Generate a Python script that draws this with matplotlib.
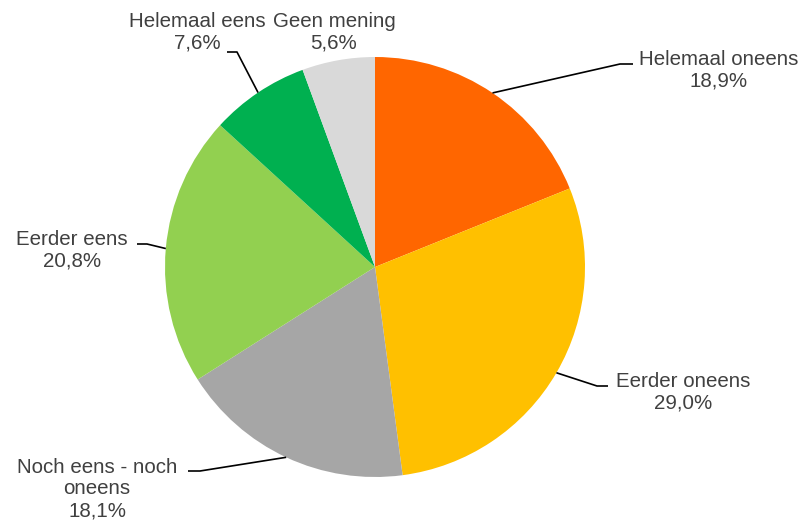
import matplotlib
matplotlib.use("Agg")
import matplotlib.pyplot as plt
import numpy as np

# Answer categories and shares (percent)
labels = ["Helemaal oneens", "Eerder oneens", "Noch eens - noch\noneens",
          "Eerder eens", "Helemaal eens", "Geen mening"]
values = [18.9, 29.0, 18.1, 20.8, 7.6, 5.6]
colors = ["#FF6600", "#FFC000", "#A6A6A6", "#92D050", "#00B050", "#D9D9D9"]

W, H = 805, 527
CX, CY, R = 375, H - 267, 210

# label centre (pixels from top-left) and elbow of the leader line
label_pos = [(719, 70), (683, 392), (97, 489), (72, 250), (197, 32), (334, 32)]
elbows = [[(620, 64), (633, 64)],
          [(597, 386), (608, 386)],
          [(200, 471), (188, 471)],
          [(147, 244), (137, 244)],
          [(237, 52), (227, 52)],
          None]

plt.rcParams["font.family"] = ["Liberation Sans", "DejaVu Sans"]

fig = plt.figure(figsize=(W / 100, H / 100), dpi=100)
ax = fig.add_axes([0, 0, 1, 1])

ax.pie(values, colors=colors, startangle=90, counterclock=False,
       center=(CX, CY), radius=R, wedgeprops=dict(linewidth=0))

ax.set_xlim(0, W)
ax.set_ylim(0, H)
ax.set_aspect("equal")
ax.axis("off")

# mid angle of each wedge for the leader line anchors
start = 90.0
for lab, val, pos, elb in zip(labels, values, label_pos, elbows):
    span = val / sum(values) * 360.0
    mid = np.deg2rad(start - span / 2)
    start -= span
    ax.text(pos[0], H - pos[1], "%s\n%s%%" % (lab, ("%.1f" % val).replace(".", ",")),
            ha="center", va="center", fontsize=14.8, color="#404040",
            linespacing=1.17)
    if elb is None:
        continue
    xs = [CX + R * np.cos(mid)] + [p[0] for p in elb]
    ys = [CY + R * np.sin(mid)] + [H - p[1] for p in elb]
    ax.plot(xs, ys, color="black", linewidth=1.2, solid_capstyle="butt")

fig.savefig("out.png", dpi=100)
